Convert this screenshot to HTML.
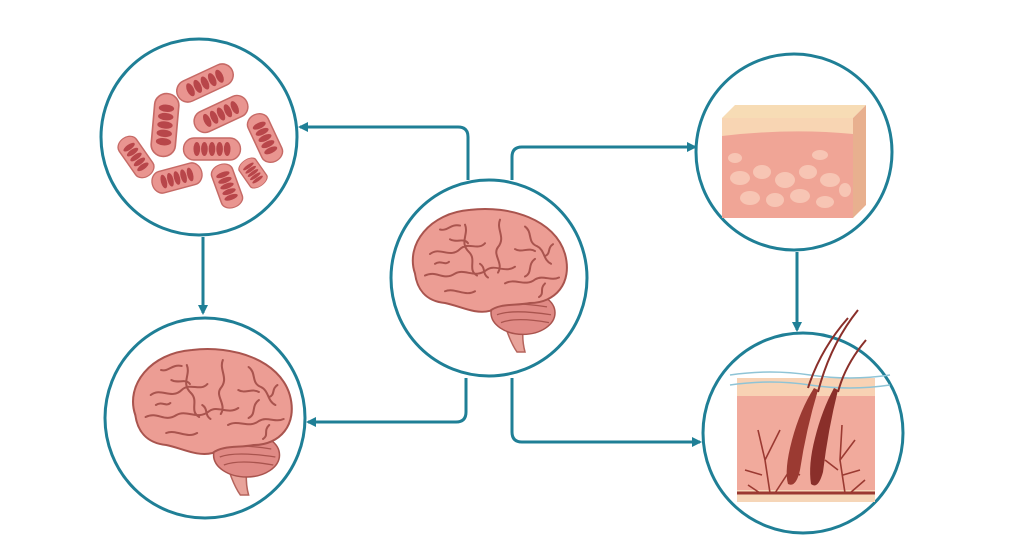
<!DOCTYPE html>
<html><head><meta charset="utf-8"><style>html,body{margin:0;padding:0;background:#fff}svg{display:block}</style></head>
<body>
<svg width="1024" height="559" viewBox="0 0 1024 559" xmlns="http://www.w3.org/2000/svg">
<defs>
<marker id="ar" markerWidth="10" markerHeight="10" refX="8" refY="5" orient="auto" markerUnits="userSpaceOnUse">
<path d="M0,0 L10,5 L0,10 Z" fill="#1f7f96"/></marker>
<g id="brain">
<path d="M95,105 C100,125 105,140 112,150 L120,150 C116,135 118,120 122,108 Z" fill="#e8a39a" stroke="#b5645c" stroke-width="1.5"/>
<ellipse cx="118" cy="110" rx="32" ry="22" fill="#e08a85" stroke="#a9544e" stroke-width="1.5"/>
<path d="M92,104 q13,-6 50,0 M92,112 q15,-6 54,0 M96,120 q15,-6 48,0" fill="none" stroke="#a9544e" stroke-width="1.3"/>
<path d="M10,70 C0,40 25,8 65,5 C105,0 150,15 160,50 C168,80 150,100 125,100 C110,103 95,100 85,108 C70,112 55,103 40,100 C20,98 12,85 10,70 Z" fill="#ec9d94" stroke="#a9544e" stroke-width="2"/>
<path d="M25,50 c10,-8 20,5 30,-5 c8,-8 18,2 25,-6 M20,72 c12,-6 18,6 30,-2 c10,-6 20,6 32,-4 c8,-6 18,4 28,-3 M60,20 c4,10 -6,18 4,28 c8,8 -2,18 8,24 M95,15 c-4,10 6,18 -2,28 c-6,8 6,16 0,26 M120,22 c8,6 2,16 12,20 c8,4 6,14 14,18 M100,80 c10,-6 20,4 30,-4 c8,-5 16,2 24,-2 M40,88 c10,-4 20,6 30,0 M130,55 c-8,6 -2,14 -10,18 M45,35 c6,4 14,-2 18,4 M140,80 c-6,6 0,10 -6,14 M75,60 c6,4 2,10 8,14 M30,60 c6,-4 10,2 14,-2 M35,25 c8,2 10,-6 20,-4 M110,45 c6,4 14,-2 20,2 M148,40 c-6,4 -2,10 -8,12" fill="none" stroke="#a9544e" stroke-width="2" stroke-linecap="round"/>
</g>
<g id="rod">
<rect x="-30" y="-11" width="60" height="22" rx="11" fill="#e99590" stroke="#c66a66" stroke-width="1.5"/>
<ellipse cx="-16" cy="0" rx="3.5" ry="7" fill="#b8464a"/>
<ellipse cx="-8" cy="0" rx="3.5" ry="7" fill="#b8464a"/>
<ellipse cx="0" cy="0" rx="3.5" ry="7" fill="#b8464a"/>
<ellipse cx="8" cy="0" rx="3.5" ry="7" fill="#b8464a"/>
<ellipse cx="16" cy="0" rx="3.5" ry="7" fill="#b8464a"/>
</g>
</defs>

<g fill="none" stroke="#1f7f96" stroke-width="3">
<path d="M468,180 V137 q0,-10 -10,-10 H300" marker-end="url(#ar)"/>
<path d="M512,180 V157 q0,-10 10,-10 H695" marker-end="url(#ar)"/>
<path d="M466,378 V412 q0,10 -10,10 H308" marker-end="url(#ar)"/>
<path d="M512,378 V432 q0,10 10,10 H700" marker-end="url(#ar)"/>
<path d="M203,237 V313" marker-end="url(#ar)"/>
<path d="M797,252 V330" marker-end="url(#ar)"/>
</g>

<g fill="#fff" stroke="#1f7f96" stroke-width="3">
<circle cx="199" cy="137" r="98"/>
<circle cx="205" cy="418" r="100"/>
<circle cx="489" cy="278" r="98"/>
<circle cx="794" cy="152" r="98"/>
<circle cx="803" cy="433" r="100"/>
</g>

<use href="#rod" transform="translate(205,83) rotate(-25)"/>
<use href="#rod" transform="translate(165,125) rotate(-85) scale(1.05,1.1)"/>
<use href="#rod" transform="translate(221,114) rotate(-25) scale(0.95,1)"/>
<use href="#rod" transform="translate(265,138) rotate(65) scale(0.85,1)"/>
<use href="#rod" transform="translate(212,149) scale(0.95,1)"/>
<use href="#rod" transform="translate(136,157) rotate(55) scale(0.75,0.95)"/>
<use href="#rod" transform="translate(177,178) rotate(-15) scale(0.85,1)"/>
<use href="#rod" transform="translate(227,186) rotate(70) scale(0.75,1)"/>
<use href="#rod" transform="translate(253,173) rotate(55) scale(0.5,0.9)"/>

<use href="#brain" transform="translate(405,205) scale(1,0.98)"/>
<use href="#brain" transform="translate(125,345) scale(1.03,1)"/>

<path d="M722,118 L735,105 L866,105 L853,118 Z" fill="#f7dcb5"/>
<path d="M853,118 L866,105 L866,205 L853,218 Z" fill="#e8b08f"/>
<rect x="722" y="118" width="131" height="100" fill="#f0a596"/>
<path d="M722,118 H853 V134 Q790,128 722,136 Z" fill="#f8d5b3"/>
<g fill="#f7c5b4">
<ellipse cx="740" cy="178" rx="10" ry="7"/><ellipse cx="762" cy="172" rx="9" ry="7"/><ellipse cx="785" cy="180" rx="10" ry="8"/>
<ellipse cx="808" cy="172" rx="9" ry="7"/><ellipse cx="830" cy="180" rx="10" ry="7"/><ellipse cx="750" cy="198" rx="10" ry="7"/>
<ellipse cx="775" cy="200" rx="9" ry="7"/><ellipse cx="800" cy="196" rx="10" ry="7"/><ellipse cx="825" cy="202" rx="9" ry="6"/>
<ellipse cx="845" cy="190" rx="6" ry="7"/><ellipse cx="735" cy="158" rx="7" ry="5"/><ellipse cx="820" cy="155" rx="8" ry="5"/>
</g>

<rect x="737" y="395" width="138" height="105" fill="#f1aa9c"/>
<rect x="737" y="378" width="138" height="18" fill="#f8d2b4"/>
<rect x="737" y="490" width="138" height="12" fill="#f6d6b8"/>
<path d="M730,375 q40,-6 80,0 t80,0 M730,385 q40,-6 80,0 t80,0" fill="none" stroke="#8fc4d6" stroke-width="1.5"/>
<line x1="737" y1="493" x2="875" y2="493" stroke="#9b3a32" stroke-width="3"/>
<g fill="none" stroke="#9b3a32" stroke-width="1.6">
<path d="M770,493 L765,460 L758,430 M765,460 L780,430 M762,475 L745,470 M775,493 L790,470 L800,450 M790,470 L800,475 M760,493 L748,485"/>
<path d="M845,493 L840,460 L842,425 M840,460 L855,440 M843,475 L860,470 M838,470 L825,460 M850,493 L865,480"/>
</g>
<g fill="none" stroke="#8a2f2a" stroke-width="2">
<path d="M858,310 Q830,345 818,392"/>
<path d="M866,340 Q845,365 838,392"/>
<path d="M848,318 Q820,350 808,388"/>
</g>
<path d="M818,390 Q806,430 800,470 Q796,488 788,484 Q784,470 792,440 Q800,410 814,388 Z" fill="#9b3a32"/>
<path d="M838,390 Q828,430 823,472 Q818,490 811,484 Q808,465 815,438 Q822,410 834,388 Z" fill="#8a2f2a"/>
</svg>
</body></html>
